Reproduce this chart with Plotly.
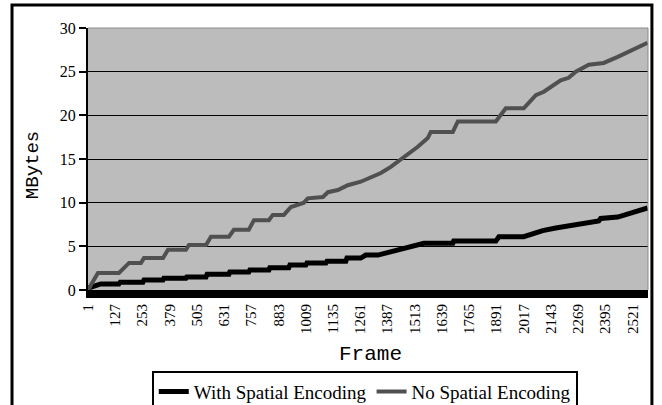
import plotly.graph_objects as go

# frames at the corners of each step
no_spatial_frame = [1, 38, 47, 144, 191, 246, 260, 348, 371, 454, 468, 547, 570, 653,
                    676, 745, 769, 838, 856, 907, 940, 1000, 1018, 1088, 1111, 1157,
                    1203, 1263, 1310, 1356, 1402, 1462, 1527, 1573, 1587, 1689, 1712,
                    1888, 1934, 2017, 2073, 2110, 2188, 2225, 2258, 2318, 2387, 2452,
                    2526, 2590]
no_spatial_mb = [0, 1.5, 1.95, 1.95, 3.1, 3.1, 3.65, 3.65, 4.6, 4.6, 5.15, 5.15, 6.1, 6.1,
                 6.9, 6.9, 8.0, 8.0, 8.6, 8.6, 9.5, 10.0, 10.5, 10.65, 11.2, 11.45,
                 12.0, 12.4, 12.95, 13.4, 14.1, 15.2, 16.4, 17.4, 18.1, 18.1, 19.3,
                 19.3, 20.8, 20.8, 22.3, 22.7, 24.0, 24.3, 25.0, 25.8, 26.0, 26.7,
                 27.5, 28.3]

with_spatial_frame = [1, 60, 144, 150, 255, 260, 348, 352, 454, 458, 547, 552, 653, 657,
                      745, 750, 838, 842, 930, 935, 1009, 1014, 1102, 1107, 1194, 1199,
                      1263, 1286, 1342, 1390, 1434, 1494, 1555, 1689, 1693, 1888, 1902,
                      2017, 2063, 2105, 2165, 2234, 2294, 2364, 2373, 2452, 2512, 2590]
with_spatial_mb = [0.2, 0.7, 0.7, 0.9, 0.9, 1.15, 1.15, 1.35, 1.35, 1.5, 1.5, 1.8, 1.8, 2.05,
                   2.05, 2.3, 2.3, 2.55, 2.55, 2.85, 2.85, 3.1, 3.1, 3.3, 3.3, 3.65,
                   3.65, 4.0, 4.0, 4.3, 4.6, 4.9, 5.35, 5.35, 5.6, 5.6, 6.1,
                   6.1, 6.5, 6.8, 7.1, 7.35, 7.65, 7.9, 8.2, 8.35, 8.8, 9.4]

frame_ticks = [1, 127, 253, 379, 505, 631, 757, 883, 1009, 1135, 1261, 1387, 1513,
               1639, 1765, 1891, 2017, 2143, 2269, 2395, 2521]
mb_ticks = [0, 5, 10, 15, 20, 25, 30]

SERIF = "Liberation Serif, Times New Roman, serif"
MONO = "Liberation Mono, Courier New, monospace"

fig = go.Figure()
fig.add_trace(go.Scatter(
    x=with_spatial_frame, y=with_spatial_mb, mode="lines",
    name="With Spatial Encoding",
    line=dict(color="#000000", width=5),
))
fig.add_trace(go.Scatter(
    x=no_spatial_frame, y=no_spatial_mb, mode="lines",
    name="No Spatial Encoding",
    line=dict(color="#505050", width=4),
))

fig.update_layout(
    width=662, height=405,
    margin=dict(l=88, r=14, t=28, b=115),
    paper_bgcolor="white",
    plot_bgcolor="#bcbcbc",
    font=dict(family=SERIF, color="#111", size=15),
    showlegend=True,
    legend=dict(
        orientation="h", xref="container", yref="container",
        x=0.551, xanchor="center", y=0.085, yanchor="top",
        bordercolor="#000", borderwidth=2, bgcolor="white",
        font=dict(family=SERIF, size=19, color="#000"),
        itemwidth=30, tracegroupgap=0,
    ),
    annotations=[
        dict(text="MBytes", xref="paper", yref="paper", x=-0.098, y=0.477,
             xanchor="center", yanchor="middle",
             textangle=-90, showarrow=False,
             font=dict(family=MONO, size=19, color="#000")),
        dict(text="Frame", xref="paper", yref="paper", x=0.504, y=-0.248,
             xanchor="center", yanchor="middle",
             showarrow=False, font=dict(family=MONO, size=21, color="#000")),
    ],
    shapes=[
        # outer chart frame
        dict(type="rect", xref="paper", yref="paper", x0=-0.1357, x1=1.007,
             y0=-0.47, y1=1.088, line=dict(color="#000", width=3), layer="above"),
        # light top / right edges of plot area
        dict(type="line", xref="paper", yref="paper", x0=0, x1=1, y0=1, y1=1,
             line=dict(color="#8a8a8a", width=1), layer="above"),
        dict(type="line", xref="paper", yref="paper", x0=1, x1=1, y0=0, y1=1,
             line=dict(color="#8a8a8a", width=1), layer="above"),
    ],
)

fig.update_xaxes(
    range=[1, 2592], tickvals=frame_ticks, tickangle=-90,
    showgrid=False, zeroline=False,
    showline=True, linecolor="#000", linewidth=8,
    ticks="", tickfont=dict(family=SERIF, size=15, color="#000"),
)
fig.update_yaxes(
    range=[0, 30], tickvals=mb_ticks,
    showgrid=True, gridcolor="#000", gridwidth=1, zeroline=False,
    showline=True, linecolor="#000", linewidth=2,
    ticks="outside", ticklen=7, tickcolor="#000", tickwidth=2,
    tickfont=dict(family=SERIF, size=16, color="#000"),
)

fig.write_html("out.html", config={"displayModeBar": False},
               post_script="document.body.style.margin='0';")
